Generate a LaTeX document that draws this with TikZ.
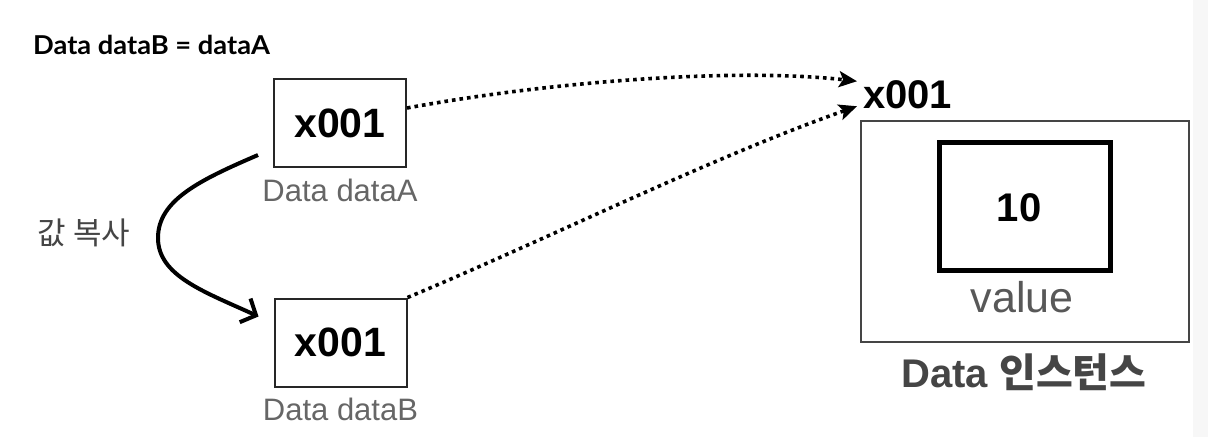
\documentclass[tikz,border=0pt]{standalone}
\usepackage{fontspec}
\setmainfont{Liberation Sans}
\newfontfamily\titlefont{Lato}[FakeStretch=1.05]
\newfontfamily\krfont{Noto Sans CJK KR}
\usetikzlibrary{arrows.meta,calc}
\definecolor{labelgray}{HTML}{666666}
\definecolor{darkgray}{HTML}{454545}
\tikzset{
  refbox/.style={draw=black!85, line width=2pt, inner sep=0pt, minimum width=132pt, minimum height=88pt,
    font=\fontsize{41}{41}\selectfont\bfseries},
  varlabel/.style={anchor=base, text=labelgray, font=\fontsize{31}{31}\selectfont},
  refline/.style={line width=3.6pt, dash pattern=on 3.6pt off 4pt,
    -{Stealth[length=18pt,width=16pt,inset=4pt]}},
  copyline/.style={line width=4pt, -{Straight Barb[length=12pt,width=26pt,line width=4pt]}}
}
\begin{document}
\begin{tikzpicture}[x=1pt,y=-1pt]
  \useasboundingbox (0,0) rectangle (1208,437);
  % faint strip on the right edge
  \fill[black!3] (1193,0) rectangle (1208,437);

  % heading
  \node[anchor=base west, inner sep=0pt, font=\titlefont\fontsize{26}{26}\selectfont\bfseries] (title) at (33,54) {Data dataB = dataA};

  % reference variables
  \node[refbox] (A) at (340,123) {x001};
  \node[varlabel] (Alab) at (340,201) {Data dataA};
  \node[refbox] (B) at (340.5,342.5) {x001};
  \node[varlabel] (Blab) at (340.5,420) {Data dataB};

  % value copy
  \node[text=darkgray, font=\krfont\fontsize{31}{31}\selectfont] (copy) at (84,233) {값 복사};
  \draw[copyline] ([shift={(-15,-13)}]A.south west) .. controls (200,180) and (158,200) .. (158,238)
     .. controls (158,276) and (205,292) .. ([shift={(-15,19)}]B.north west);

  % instance
  \node[anchor=base west, inner sep=0pt, font=\fontsize{40}{40}\selectfont\bfseries] (addr) at (863,108) {x001};
  \node[draw=darkgray, line width=1.6pt, minimum width=328pt, minimum height=221pt, inner sep=0pt] (inst) at (1025,231.5) {};
  \node[draw=black, line width=5pt, minimum width=171pt, minimum height=128pt, inner sep=0pt] (val) at (1025,206.5) {};
  \node[anchor=base, font=\fontsize{40}{40}\selectfont\bfseries] (ten) at (1019,221) {10};
  \node[anchor=base, text=darkgray!90, font=\fontsize{43}{43}\selectfont] (vlab) at (1022,312) {value};
  \node[anchor=base, text=darkgray, font=\fontsize{40}{40}\selectfont\bfseries] (ilab) at (1024,387) {Data {\krfont\bfseries 인스턴스}};

  % references to the instance
  \draw[refline] ([yshift=15]A.east) .. controls (560,80) and (740,68) .. ([shift={(-6,-13)}]addr.west);
  \draw[refline] ([yshift=45]B.east) .. controls (550,238) and (710,158) .. ([shift={(-6,12)}]addr.west);
\end{tikzpicture}
\end{document}
